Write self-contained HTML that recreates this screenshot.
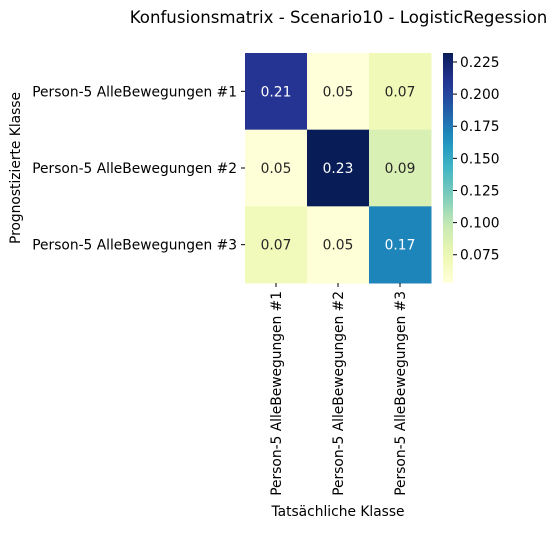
<!DOCTYPE html>
<html><head><meta charset="utf-8"><style>
body{margin:0;background:#fff;}
svg text{font-family:"DejaVu Sans","Liberation Sans",sans-serif;}
</style></head><body>
<svg id="c" width="558" height="529" xmlns="http://www.w3.org/2000/svg">
<text x="338.5" y="23" font-size="16.6" text-anchor="middle">Konfusionsmatrix - Scenario10 - LogisticRegession</text>
<text transform="translate(20,168) rotate(-90)" font-size="13.8" text-anchor="middle">Prognostizierte Klasse</text>
<text x="338" y="516" font-size="13.8" text-anchor="middle">Tatsächliche Klasse</text>
<g id="hm"></g><g id="cb"></g>
</svg>
<script>
const categories=["Person-5 AlleBewegungen #1","Person-5 AlleBewegungen #2","Person-5 AlleBewegungen #3"];
const row1=[0.21,0.053,0.072];
const row2=[0.054,0.232,0.088];
const row3=[0.07,0.054,0.17];
const cbTicks=[0.075,0.1,0.125,0.15,0.175,0.2,0.225];
const vmin=0.053,vmax=0.232;
const rows=[row1,row2,row3];
const stops=["#ffffd9","#edf8b1","#c7e9b4","#7fcdbb","#41b6c4","#1d91c0","#225ea8","#253494","#081d58"];
function hex(h){return [1,3,5].map(i=>parseInt(h.substr(i,2),16));}
function cmap(v){let t=Math.max(0,Math.min(1,(v-vmin)/(vmax-vmin)))*(stops.length-1);let i=Math.min(Math.floor(t),stops.length-2),f=t-i;let a=hex(stops[i]),b=hex(stops[i+1]);return "rgb("+a.map((x,k)=>Math.round(x+(b[k]-x)*f)).join(",")+")";}
const NS="http://www.w3.org/2000/svg";
const FS=13.8;
const X0=245,Y0=53,W=186,H=230;
const cw=W/categories.length,ch=H/rows.length;
const xs=i=>X0+i*cw, ys=j=>Y0+j*ch;
const hm=document.getElementById('hm'),cb=document.getElementById('cb');
function mk(tag,attrs,parent,txt){const e=document.createElementNS(NS,tag);for(const k in attrs)e.setAttribute(k,attrs[k]);if(txt!==undefined)e.textContent=txt;parent.appendChild(e);return e;}
rows.forEach((r,j)=>r.forEach((v,i)=>{
 const rc=mk('rect',{x:xs(i),y:ys(j),width:cw+0.5,height:ch+0.5,fill:cmap(v)},hm);
 
 
 const t=mk('text',{x:xs(i)+cw/2,y:ys(j)+ch/2+5,'font-size':FS,'text-anchor':'middle',fill:(v-vmin)/(vmax-vmin)>0.55?'#fff':'#262626'},hm,v.toFixed(2));
 
 
}));
categories.forEach((c,j)=>{
 const y=ys(j)+ch/2;
 mk('line',{x1:X0-4,x2:X0,y1:y,y2:y,stroke:'#000'},hm);
 const t=mk('text',{x:X0-8,y:y+5,'font-size':FS,'text-anchor':'end'},hm,c);
 
 
});
categories.forEach((c,i)=>{
 const x=xs(i)+cw/2;
 mk('line',{x1:x,x2:x,y1:Y0+H,y2:Y0+H+4,stroke:'#000'},hm);
 const t=mk('text',{transform:'translate('+(x+5)+','+(Y0+H+8)+') rotate(-90)','font-size':FS,'text-anchor':'end'},hm,c);
 
 
});
const CX=443,CW=10;
const cy=v=>Y0+H-(v-vmin)/(vmax-vmin)*H;
const defs=mk('defs',{},cb);
const g=mk('linearGradient',{id:'grad',x1:0,y1:1,x2:0,y2:0},defs);
for(let k=0;k<=20;k++){mk('stop',{offset:k/20,'stop-color':cmap(vmin+(vmax-vmin)*k/20)},g);}
const bar=mk('rect',{x:CX,y:Y0,width:CW,height:H,fill:'url(#grad)'},cb);


cbTicks.forEach(v=>{
 const y=cy(v);
 mk('line',{x1:CX+CW,x2:CX+CW+4,y1:y,y2:y,stroke:'#000'},cb);
 const t=mk('text',{x:CX+CW+7,y:y+5,'font-size':FS},cb,v.toFixed(3));
 
 
});
</script>
</body></html>
